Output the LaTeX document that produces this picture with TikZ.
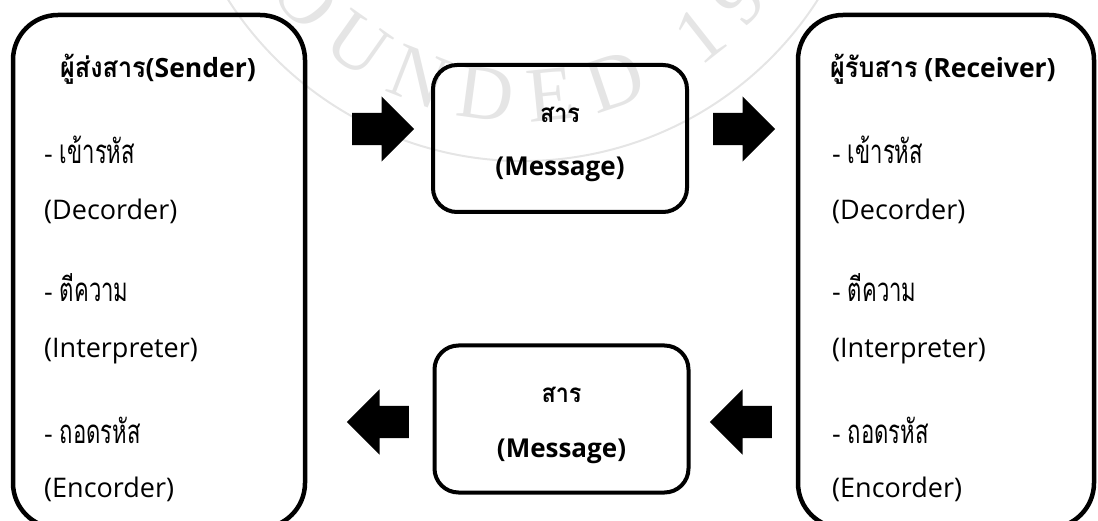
\documentclass[tikz,border=0pt]{standalone}
\usepackage{fontspec}
\setmainfont{Open Sans}
\newfontfamily\thai[Script=Thai,FakeStretch=0.67]{Loma}
\newfontfamily\thaib[Script=Thai,FakeStretch=0.9]{Loma Bold}
\newfontfamily\wmfont{Liberation Serif}
\usetikzlibrary{shapes.arrows,decorations.text}
\begin{document}
\begin{tikzpicture}[x=1pt,y=1pt,
  bigbox/.style={draw=black,line width=4.5pt,rounded corners=45pt,inner sep=0pt},
  msgbox/.style={draw=black,line width=4pt,rounded corners=24pt,inner sep=0pt,minimum width=254pt,minimum height=147pt},
  body/.style={anchor=base west,inner sep=0pt,font=\fontsize{27}{30}\selectfont},
  title/.style={anchor=base west,inner sep=0pt,font=\fontsize{26.5}{30}\selectfont\bfseries},
  msgtext/.style={anchor=base,inner sep=0pt,font=\fontsize{26}{30}\selectfont\bfseries},
  blockarrow/.style={single arrow,fill=black,draw=none,inner xsep=0pt,inner ysep=16pt,
    single arrow head extend=16.5pt,single arrow head indent=0pt,minimum height=62pt},
  wm/.style={black!10}]
\clip (0,0) rectangle (1098,-521);
% watermark
\draw[wm,line width=2pt] (523,189) ++(192:350) arc[start angle=192,end angle=348,radius=350];
\path[decorate,decoration={text along path,text color=black!10,
  text={|\wmfont\fontsize{78}{78}\selectfont|FOUNDED 1969},
  text align={fit to path}}]
  (523,189) ++(204:311) arc[start angle=204,end angle=344,radius=311];
% boxes
\node[bigbox,minimum width=292pt,minimum height=513pt] (sender) at (159,-271.5) {};
\node[bigbox,minimum width=296pt,minimum height=513pt] (receiver) at (946,-271.5) {};
\node[msgbox] (msgtop) at (560,-138.5) {};
\node[msgbox] (msgbot) at (561.5,-419) {};
% sender texts
\node[title] (st) at (60,-78) {{\thaib\fontsize{28}{30}\selectfont ผู้ส่งสาร}(Sender)};
\node[body] (s1) at (44,-164) {- {\thai\fontsize{33}{30}\selectfont เข้ารหัส}};
\node[body] (s2) at (44,-220) {(Decorder)};
\node[body] (s3) at (44,-302) {- {\thai\fontsize{33}{30}\selectfont ตีความ}};
\node[body] (s4) at (44,-357) {(Interpreter)};
\node[body] (s5) at (44,-443) {- {\thai\fontsize{33}{30}\selectfont ถอดรหัส}};
\node[body] (s6) at (44,-497) {(Encorder)};
% receiver texts
\node[title] (rt) at (830,-78) {{\thaib\fontsize{28}{30}\selectfont ผู้รับสาร} (Receiver)};
\node[body] (r1) at (832,-164) {- {\thai\fontsize{33}{30}\selectfont เข้ารหัส}};
\node[body] (r2) at (832,-220) {(Decorder)};
\node[body] (r3) at (832,-302) {- {\thai\fontsize{33}{30}\selectfont ตีความ}};
\node[body] (r4) at (832,-357) {(Interpreter)};
\node[body] (r5) at (832,-443) {- {\thai\fontsize{33}{30}\selectfont ถอดรหัส}};
\node[body] (r6) at (832,-497) {(Encorder)};
% message texts
\node[msgtext] (mt1) at (msgtop.center |- 0,-123) {\thaib สาร};
\node[msgtext] (mt2) at (msgtop.center |- 0,-176) {(Message)};
\node[msgtext] (mb1) at (msgbot.center |- 0,-402) {\thaib สาร};
\node[msgtext] (mb2) at (msgbot.center |- 0,-457) {(Message)};
% block arrows
\node[blockarrow,anchor=tail] (a1) at (352,-129) {};
\node[blockarrow,anchor=tail] (a2) at (713,-129) {};
\node[blockarrow,anchor=tail,shape border rotate=180] (a3) at (409,-422) {};
\node[blockarrow,anchor=tail,shape border rotate=180] (a4) at (772,-422) {};
\end{tikzpicture}
\end{document}
